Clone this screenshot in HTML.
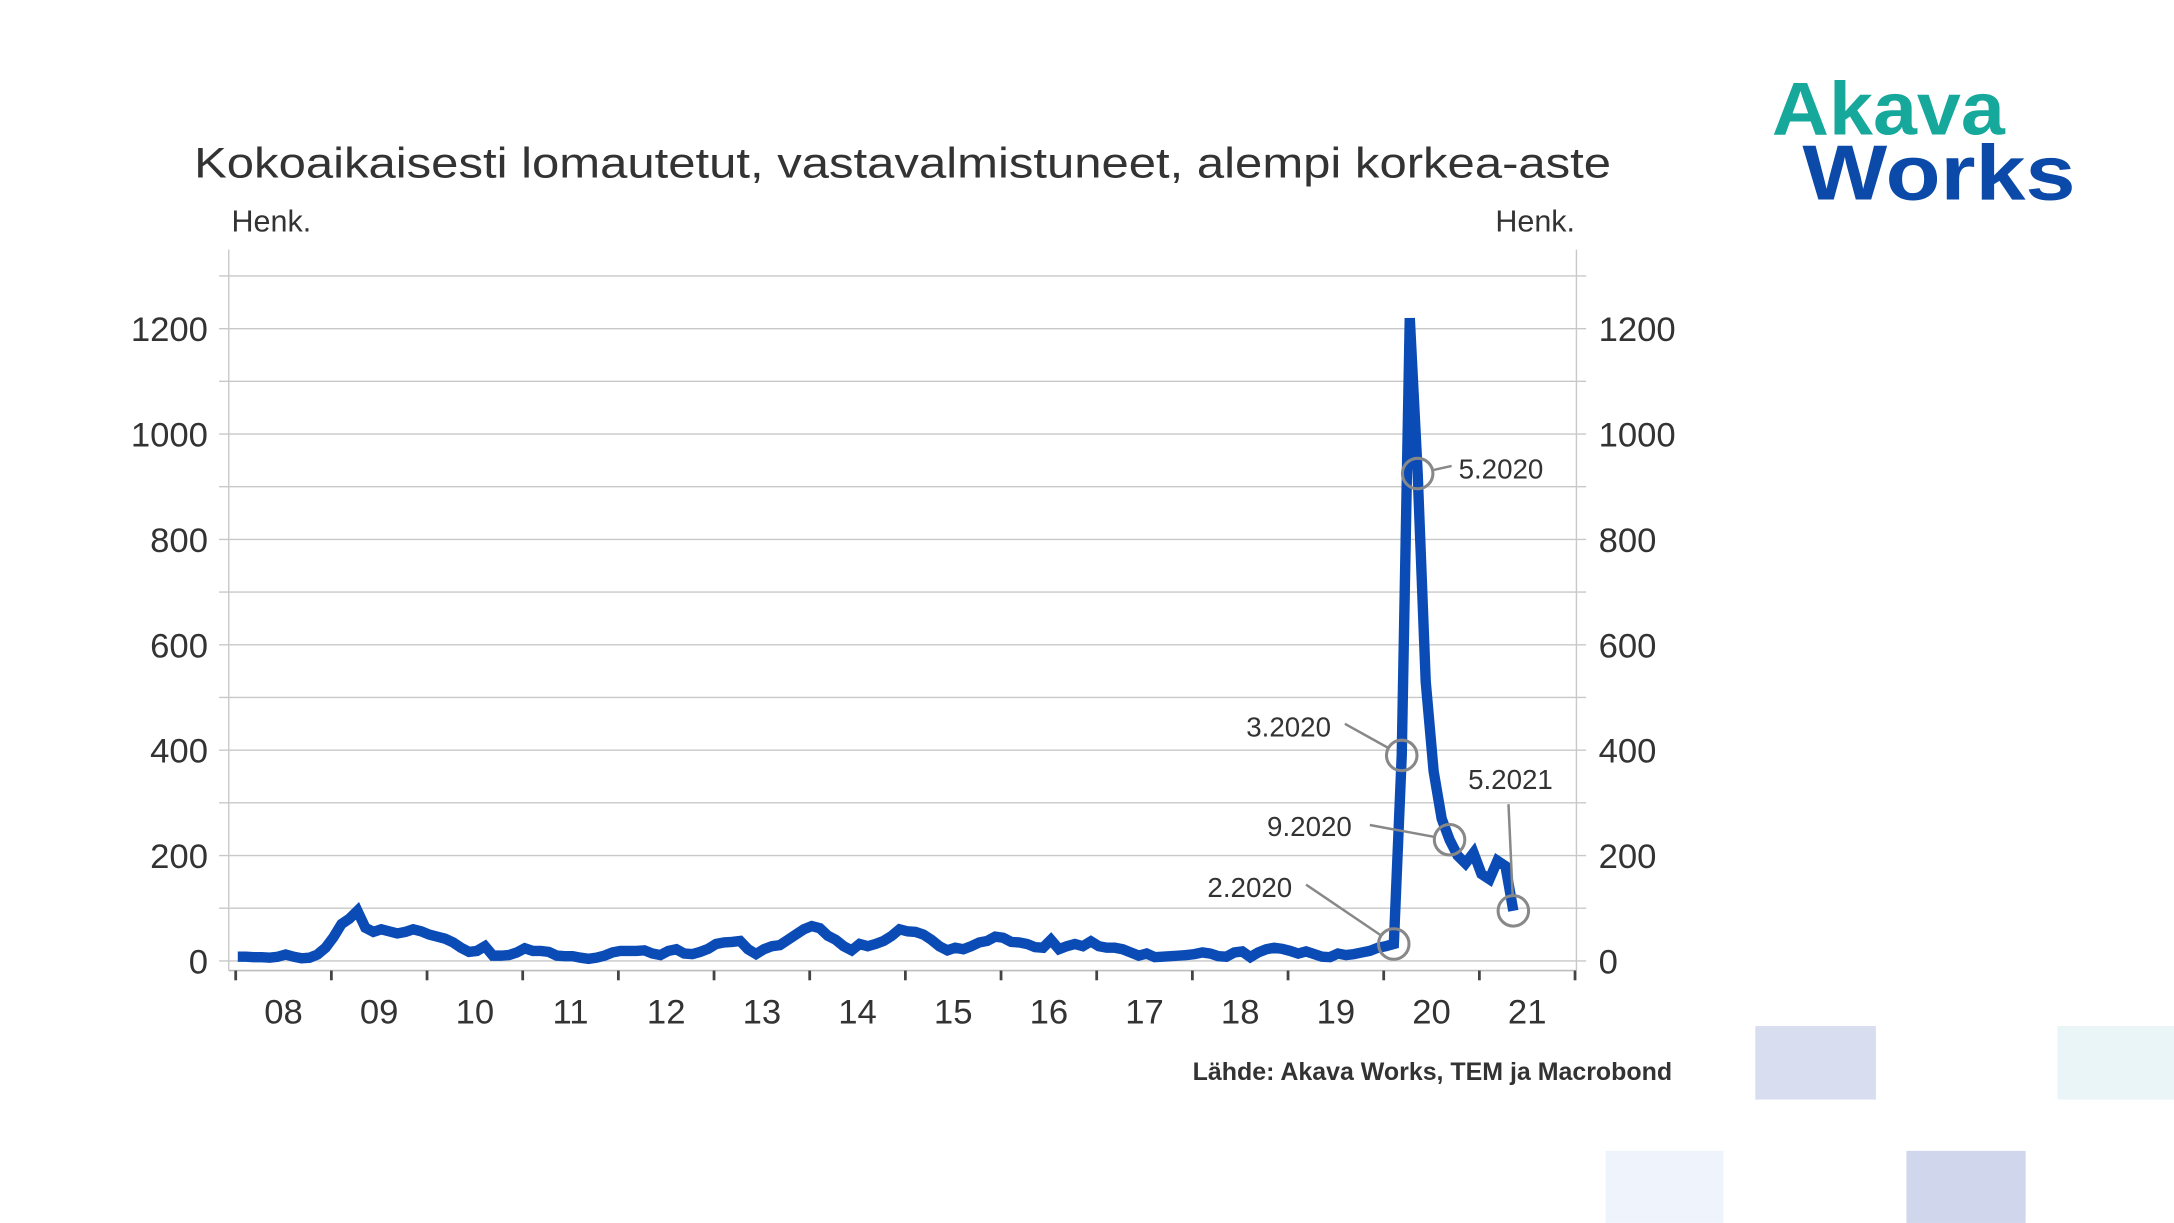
<!DOCTYPE html>
<html><head><meta charset="utf-8"><style>
html,body{margin:0;padding:0;background:#fff}
svg{display:block}
text{font-family:"Liberation Sans",sans-serif;fill:#333}
</style></head><body>
<svg id="chart" xmlns="http://www.w3.org/2000/svg" width="2174" height="1223" viewBox="0 0 1568 882">
<rect x="1266" y="740" width="87" height="53" fill="#d9ddf0"/>
<rect x="1484" y="740" width="84" height="53" fill="#e9f5f6"/>
<rect x="1158" y="830" width="85" height="52" fill="#eff3fb"/>
<rect x="1375" y="830" width="86" height="52" fill="#d0d7ec"/>
<text x="1278" y="97" font-size="54" font-weight="bold" style="fill:#17a89c" textLength="168" lengthAdjust="spacingAndGlyphs">Akava</text>
<text x="1300" y="144" font-size="56" font-weight="bold" style="fill:#0b4aa8" textLength="197" lengthAdjust="spacingAndGlyphs">Works</text>
<text x="140" y="128" font-size="31" textLength="1022" lengthAdjust="spacingAndGlyphs">Kokoaikaisesti lomautetut, vastavalmistuneet, alempi korkea-aste</text>
<text x="167" y="167" font-size="22">Henk.</text>
<text x="1136" y="167" font-size="22" text-anchor="end">Henk.</text>
<text x="1206" y="779" font-size="18" font-weight="bold" text-anchor="end">Lähde: Akava Works, TEM ja Macrobond</text>
<g id="grid"></g><g id="axes"></g><g id="series"></g><g id="annot"></g>
</svg>
<script>
const years=["08","09","10","11","12","13","14","15","16","17","18","19","20","21"];
const yTicks=[0,200,400,600,800,1000,1200];
const v2008=[8,8,7,7,6,8,12,8,5,6,12,25];
const v2009=[45,70,80,95,63,55,60,56,52,55,60,56];
const v2010=[50,46,42,35,25,17,19,28,10,10,11,16];
const v2011=[24,19,19,17,10,9,9,6,4,6,10,16];
const v2012=[19,19,19,20,14,11,19,22,14,13,17,23];
const v2013=[32,35,36,38,22,13,22,28,30,40,50,60];
const v2014=[66,62,48,40,28,20,32,28,32,38,47,60];
const v2015=[56,55,50,40,28,20,25,22,28,35,38,46];
const v2016=[44,36,35,32,26,25,40,22,28,32,28,37];
const v2017=[28,25,25,22,16,10,14,7,8,9,10,11];
const v2018=[13,16,14,9,8,16,18,7,16,22,25,23];
const v2019=[19,14,18,13,8,7,14,11,13,16,19,25];
const v2020=[28,32,390,1220,925,530,360,270,230,200,185,205];
const v2021=[165,155,190,180,95];
const series=[].concat(v2008,v2009,v2010,v2011,v2012,v2013,v2014,v2015,v2016,v2017,v2018,v2019,v2020,v2021);
const annLabels=["2.2020","3.2020","5.2020","9.2020","5.2021"];
const annIndex=[145,146,148,152,160];
const NS="http://www.w3.org/2000/svg";
const X0=170,YW=69,Y0=693,PX=76/200,L=165,R=1137;
const xs=i=>X0+1.5+i*YW/12;
const ys=v=>Y0-v*PX;
function mk(t,a,p){const e=document.createElementNS(NS,t);for(const k in a)e.setAttribute(k,a[k]);p.appendChild(e);return e;}
const grid=document.getElementById('grid'),axes=document.getElementById('axes'),ser=document.getElementById('series'),an=document.getElementById('annot');
for(let v=0;v<=1300;v+=100){
 const g=mk('line',{x1:158,x2:R+7,y1:ys(v),y2:ys(v),stroke:'#c8c8c8','stroke-width':1},grid);
 
 
}
yTicks.forEach(v=>{
 const a=mk('text',{x:150,y:ys(v)+9,'font-size':25,'text-anchor':'end'},axes);a.textContent=v;
 
 
 const b=mk('text',{x:1153,y:ys(v)+9,'font-size':25},axes);b.textContent=v;
 
 
});
let ax=mk('line',{x1:L,x2:L,y1:180,y2:700,stroke:'#c8c8c8','stroke-width':1},axes);


ax=mk('line',{x1:R,x2:R,y1:180,y2:700,stroke:'#c8c8c8','stroke-width':1},axes);


ax=mk('line',{x1:L,x2:R,y1:700,y2:700,stroke:'#bdbdbd','stroke-width':1.2},axes);


for(let k=0;k<=years.length;k++){
 const x=X0+k*YW;
 const t=mk('line',{x1:x,x2:x,y1:700,y2:707,stroke:'#444','stroke-width':2},axes);
 
 
 if(k<years.length){
  const l=mk('text',{x:x+YW/2,y:738,'font-size':25,'text-anchor':'middle'},axes);l.textContent=years[k];
  
  
 }
}
const p=mk('polyline',{points:series.map((v,i)=>xs(i).toFixed(1)+','+ys(v).toFixed(1)).join(' '),fill:'none',stroke:'#0b4bb6','stroke-width':7.5,'stroke-linejoin':'miter','stroke-miterlimit':10},ser);


const lab=[{lx:932,ly:647,a:'end',l1:[942,638]},{lx:960,ly:531,a:'end',l1:[970,522]},{lx:1052,ly:345,a:'start',l1:[1047,336]},{lx:975,ly:603,a:'end',l1:[988,595]},{lx:1120,ly:569,a:'end',l1:[1088,580]}];
annIndex.forEach((idx,j)=>{
 const cx=xs(idx),cy=ys(series[idx]);
 const c=mk('circle',{cx:cx,cy:cy,r:11,fill:'none',stroke:'#888','stroke-width':2.2},an);
 
 
 const o=lab[j];
 const dx=cx-o.l1[0],dy=cy-o.l1[1],d=Math.hypot(dx,dy);
 const ln=mk('line',{x1:o.l1[0],y1:o.l1[1],x2:cx-dx/d*11,y2:cy-dy/d*11,stroke:'#888','stroke-width':1.8},an);
 
 
 const t=mk('text',{x:o.lx,y:o.ly,'font-size':20,'text-anchor':o.a},an);t.textContent=annLabels[j];
 
 
});
</script>
</body></html>
